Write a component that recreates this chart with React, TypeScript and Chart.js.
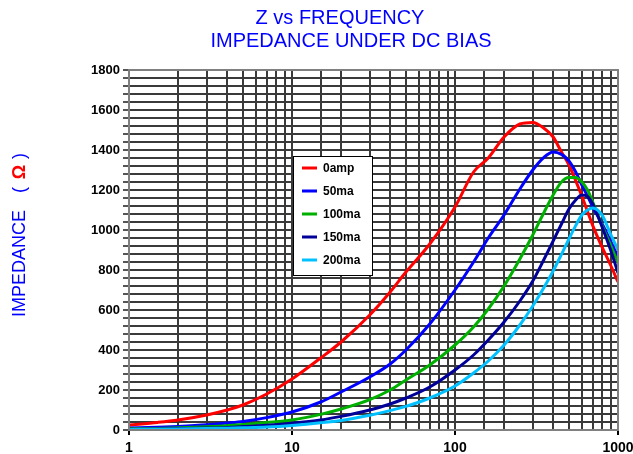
import React, { useEffect, useRef } from 'react';
import { Chart, registerables } from 'chart.js';

Chart.register(...registerables);

// ---------- data ----------
const frequencies = [1, 1.5, 2, 3, 4, 5, 7, 10, 15, 20, 30, 40, 50, 70, 100, 130, 160, 200, 250, 300, 350, 400, 450, 500, 550, 600, 650, 700, 800, 900, 1000];

const z0amp = [25, 38, 50, 75, 100, 125, 180, 255, 360, 440, 575, 690, 790, 930, 1115, 1290, 1360, 1465, 1530, 1538, 1510, 1465, 1390, 1325, 1247, 1170, 1093, 1022, 913, 825, 740];
const z50ma = [10, 14, 18, 26, 35, 43, 62, 90, 140, 190, 265, 330, 400, 530, 700, 840, 960, 1075, 1205, 1300, 1362, 1390, 1378, 1345, 1290, 1225, 1170, 1115, 1030, 945, 865];
const z100ma = [6, 8, 11, 16, 21, 27, 37, 50, 78, 105, 152, 200, 250, 325, 425, 515, 605, 720, 855, 975, 1085, 1175, 1240, 1262, 1262, 1240, 1200, 1140, 1020, 925, 835];
const z150ma = [4, 5, 7, 10, 13, 17, 24, 34, 50, 68, 100, 130, 160, 215, 300, 375, 450, 540, 645, 745, 850, 945, 1030, 1105, 1150, 1175, 1168, 1130, 1014, 901, 785];
const z200ma = [3, 4, 5, 7, 9, 11, 15, 23, 36, 48, 74, 97, 118, 160, 220, 285, 345, 425, 525, 620, 710, 795, 878, 955, 1022, 1075, 1100, 1110, 1073, 980, 900];

const seriesLabels = ['0amp', '50ma', '100ma', '150ma', '200ma'];
const seriesValues = [z0amp, z50ma, z100ma, z150ma, z200ma];
const seriesColors = ['#FF0000', '#0000FF', '#00B000', '#000099', '#00C0FF'];

const xTickLabels = [1, 10, 100, 1000];
const yMin = 0;
const yMax = 1800;
const yGridStep = 40;
const yLabelStep = 200;

const titleLines = ['Z vs FREQUENCY', 'IMPEDANCE UNDER DC BIAS'];
const yTitleParts = ['IMPEDANCE', '(', 'Ω', ')'];

const FONT = "'Liberation Sans', Arial, sans-serif";

function isLabelled(v: number) {
  return xTickLabels.some((t) => Math.abs(t - v) < 1e-9);
}

const decorPlugin = {
  id: 'decor',
  beforeDraw(chart: any) {
    const { ctx, width, height } = chart;
    ctx.save();
    ctx.fillStyle = '#ffffff';
    ctx.fillRect(0, 0, width, height);
    ctx.restore();
  },
  afterDraw(chart: any) {
    const { ctx, chartArea } = chart;
    const a = chartArea;
    ctx.save();
    // frame
    ctx.strokeStyle = '#808080';
    ctx.lineWidth = 2;
    ctx.strokeRect(a.left, a.top, a.right - a.left, a.bottom - a.top);

    // title
    ctx.fillStyle = '#0000FF';
    ctx.font = `20px ${FONT}`;
    ctx.textAlign = 'center';
    ctx.textBaseline = 'alphabetic';
    ctx.fillText(titleLines[0], 340, 24);
    ctx.fillText(titleLines[1], 351, 47);

    // y axis title (rotated)
    ctx.translate(25, 0);
    ctx.rotate(-Math.PI / 2);
    ctx.textAlign = 'left';
    ctx.textBaseline = 'alphabetic';
    ctx.font = `18px ${FONT}`;
    ctx.fillStyle = '#0000FF';
    ctx.fillText(yTitleParts[0], -317, 0);
    ctx.fillText(yTitleParts[1], -193, 0);
    ctx.fillText(yTitleParts[3], -159, 0);
    ctx.font = `bold 18px ${FONT}`;
    ctx.fillStyle = '#FF0000';
    ctx.textAlign = 'center';
    ctx.fillText(yTitleParts[2], -172, 0);
    ctx.setTransform(1, 0, 0, 1, 0, 0);
    ctx.restore();

    // legend
    ctx.save();
    const lx = a.left + 164;
    const ly = a.top + 86;
    const lw = 79;
    const lh = 119;
    ctx.fillStyle = '#ffffff';
    ctx.fillRect(lx, ly, lw, lh);
    ctx.strokeStyle = '#000000';
    ctx.lineWidth = 1;
    ctx.strokeRect(lx + 0.5, ly + 0.5, lw, lh);
    ctx.font = `bold 12px ${FONT}`;
    ctx.textAlign = 'left';
    ctx.textBaseline = 'middle';
    chart.data.datasets.forEach((ds: any, i: number) => {
      const yy = ly + 12 + i * 23;
      ctx.strokeStyle = ds.borderColor;
      ctx.lineWidth = 3;
      ctx.beginPath();
      ctx.moveTo(lx + 9, yy);
      ctx.lineTo(lx + 24, yy);
      ctx.stroke();
      ctx.fillStyle = '#000000';
      ctx.fillText(ds.label, lx + 30, yy + 1);
    });
    ctx.restore();
  },
};

export default function App() {
  const canvasRef = useRef<HTMLCanvasElement | null>(null);

  useEffect(() => {
    document.body.style.margin = '0';
    const canvas = canvasRef.current;
    if (!canvas) return;
    const datasets = seriesLabels.map((label, i) => ({
      label,
      data: frequencies.map((f, k) => ({ x: f, y: seriesValues[i][k] })),
      borderColor: seriesColors[i],
      backgroundColor: seriesColors[i],
      borderWidth: 3,
      pointRadius: 0,
      fill: false,
      cubicInterpolationMode: 'monotone' as const,
      order: seriesLabels.length - i,
    }));

    const chart = new Chart(canvas, {
      type: 'line',
      data: { datasets },
      options: {
        animation: false,
        responsive: false,
        devicePixelRatio: 1,
        layout: { padding: { top: 70, right: 15, left: 0, bottom: 0 } },
        plugins: {
          legend: { display: false },
          title: { display: false },
          tooltip: { enabled: false },
        },
        scales: {
          x: {
            type: 'logarithmic',
            min: 1,
            max: 1000,
            grid: {
              color: '#3a3a3a',
              lineWidth: 2,
              drawTicks: true,
              tickLength: 5,
              tickColor: (c: any) => (c.tick && isLabelled(c.tick.value) ? '#000000' : 'rgba(0,0,0,0)'),
            },
            border: { display: false },
            ticks: {
              autoSkip: false,
              maxRotation: 0,
              padding: 5,
              color: '#000000',
              font: { family: FONT, size: 14, weight: 'bold' },
              callback: (v: any) => (isLabelled(Number(v)) ? String(v) : ''),
            },
            afterFit: (s: any) => {
              s.height = 24;
              s.paddingLeft = 0;
              s.paddingRight = 0;
            },
          },
          y: {
            type: 'linear',
            min: yMin,
            max: yMax,
            grid: {
              color: '#3a3a3a',
              lineWidth: 2,
              drawTicks: true,
              tickLength: 6,
              tickColor: '#555555',
            },
            border: { display: false },
            ticks: {
              stepSize: yGridStep,
              autoSkip: false,
              padding: 3,
              color: '#000000',
              font: { family: FONT, size: 13, weight: 'bold' },
              callback: (v: any) => (Number(v) % yLabelStep === 0 ? String(v) : ''),
            },
            afterFit: (s: any) => {
              s.width = 129;
              s.paddingTop = 0;
              s.paddingBottom = 0;
            },
          },
        },
      },
      plugins: [decorPlugin],
    });
    return () => chart.destroy();
  }, []);

  return (
    <div style={{ position: 'absolute', left: 0, top: 0, width: 633, height: 454 }}>
      <canvas ref={canvasRef} width={633} height={454} style={{ width: 633, height: 454 }} />
    </div>
  );
}
